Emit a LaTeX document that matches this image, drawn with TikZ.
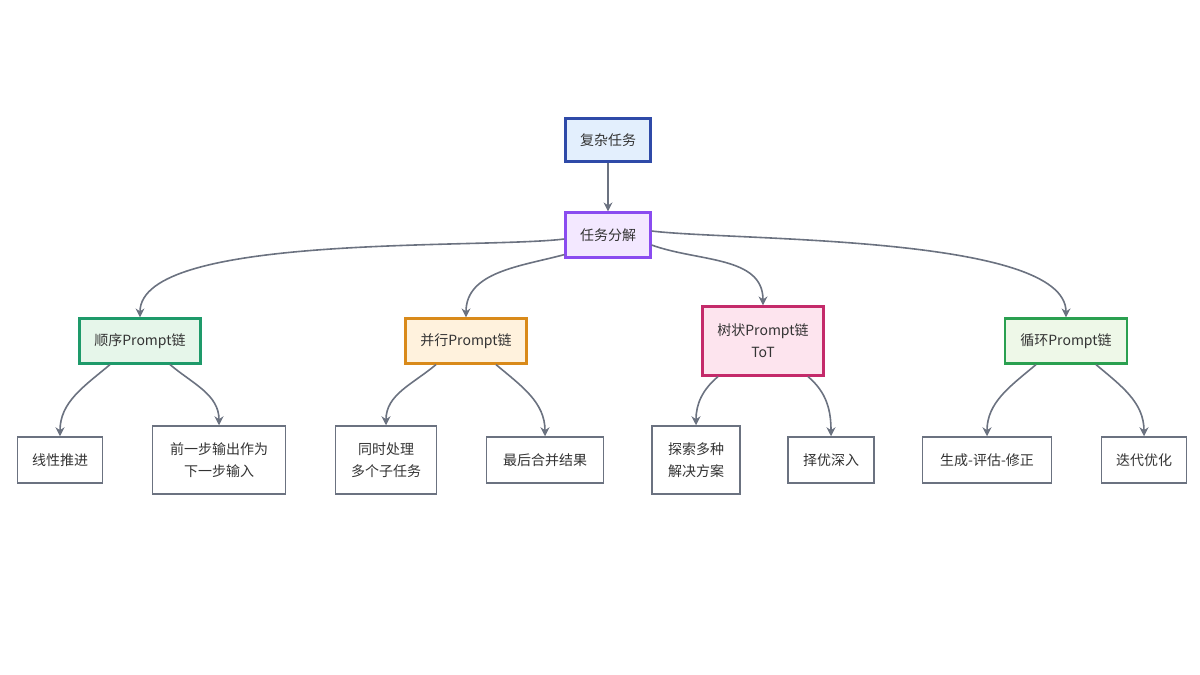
\documentclass[tikz,border=0pt]{standalone}
\usepackage{fontspec}
\setmainfont{Noto Sans CJK SC}
\usetikzlibrary{arrows.meta}
\definecolor{edgegray}{HTML}{6B7280}
\definecolor{leafgray}{HTML}{6B7280}
\tikzset{
  box/.style={draw, line width=2.2pt, minimum height=45pt, inner xsep=10pt, align=center, font=\fontsize{14}{22}\selectfont, text=black!80},
  leaf/.style={draw=leafgray, line width=1.5pt, fill=white, minimum height=46pt, inner xsep=10pt, align=center, font=\fontsize{14}{22}\selectfont, text=black!80},
  link/.style={edgegray, line width=1.6pt, -{Stealth[length=9pt,width=9pt]}}
}
\begin{document}
\begin{tikzpicture}[x=1pt,y=-1pt]
  \useasboundingbox (0,0) rectangle (1200,675);

  \node [box, draw={rgb,255:red,47;green,74;blue,168}, fill={rgb,255:red,227;green,239;blue,253}, minimum width=85pt, minimum height=43pt] (task) at (608,140) {复杂任务};
  \node [box, draw={rgb,255:red,138;green,76;blue,240}, fill={rgb,255:red,243;green,232;blue,255}, minimum width=85pt] (split) at (608,235) {任务分解};

  \node [box, draw={rgb,255:red,30;green,154;blue,106}, fill={rgb,255:red,230;green,246;blue,234}, minimum width=121pt] (seq) at (140,341) {顺序Prompt链};
  \node [box, draw={rgb,255:red,217;green,138;blue,26}, fill={rgb,255:red,255;green,242;blue,221}, minimum width=121pt] (par) at (466,341) {并行Prompt链};
  \node [box, draw={rgb,255:red,196;green,42;blue,106}, fill={rgb,255:red,253;green,228;blue,238}, minimum width=121pt, minimum height=69pt] (tree) at (763,341) {树状Prompt链\\ToT};
  \node [box, draw={rgb,255:red,42;green,160;blue,80}, fill={rgb,255:red,238;green,248;blue,232}, minimum width=122pt] (loop) at (1066,341) {循环Prompt链};

  \node [leaf, minimum width=85pt] (lin) at (60,460) {线性推进};
  \node [leaf, minimum width=133pt, minimum height=68pt] (prev) at (219,460) {前一步输出作为\\下一步输入};
  \node [leaf, minimum width=101pt, minimum height=68pt] (same) at (386,460) {同时处理\\多个子任务};
  \node [leaf, minimum width=117pt] (merge) at (545,460) {最后合并结果};
  \node [leaf, minimum width=88pt, minimum height=68pt] (explore) at (696,460) {探索多种\\解决方案};
  \node [leaf, minimum width=86pt] (best) at (831,460) {择优深入};
  \node [leaf, minimum width=129pt] (gen) at (987,460) {生成-评估-修正};
  \node [leaf, minimum width=85pt] (iter) at (1144,460) {迭代优化};

  \draw [link] (task) -- (split);

  \draw [link] (split.west) ++(0,4) to [out=187, in=90, looseness=0.5] (seq.north);
  \draw [link] ([xshift=-8pt]split.south west) ++(8,-4) to [out=195, in=90] (par.north);
  \draw [link] ([yshift=-10pt]split.east) to [out=-20, in=90] (tree.north);
  \draw [link] ([yshift=4pt]split.east) to [out=-7, in=90, looseness=0.5] (loop.north);

  \draw [link] ([xshift=-30pt]seq.south) to [out=-140, in=90] (lin.north);
  \draw [link] ([xshift=30pt]seq.south) to [out=-40, in=90] (prev.north);
  \draw [link] ([xshift=-30pt]par.south) to [out=-140, in=90] (same.north);
  \draw [link] ([xshift=30pt]par.south) to [out=-40, in=90] (merge.north);
  \draw [link] ([xshift=-45pt]tree.south) to [out=-140, in=90] (explore.north);
  \draw [link] ([xshift=45pt]tree.south) to [out=-40, in=90] (best.north);
  \draw [link] ([xshift=-30pt]loop.south) to [out=-140, in=90] (gen.north);
  \draw [link] ([xshift=30pt]loop.south) to [out=-40, in=90] (iter.north);
\end{tikzpicture}
\end{document}
